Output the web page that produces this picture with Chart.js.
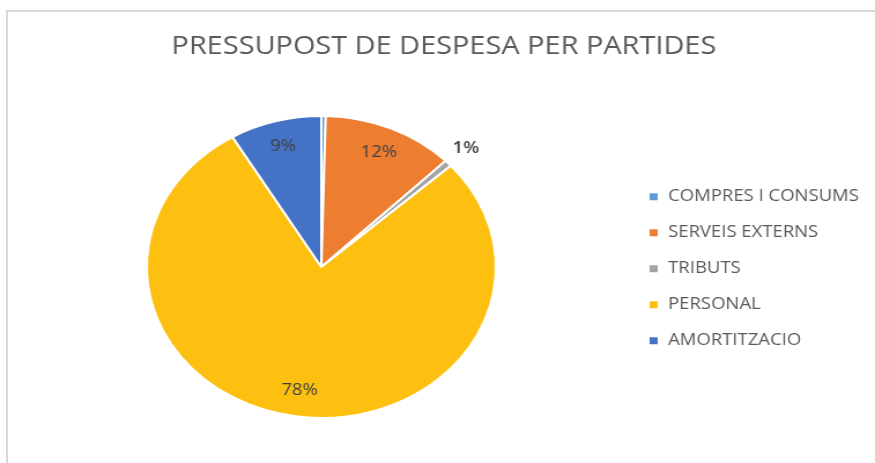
<!DOCTYPE html>
<html>
<head>
<meta charset="utf-8">
<script src="https://cdn.jsdelivr.net/npm/chart.js@4.4.1/dist/chart.umd.min.js"></script>
<style>
  html, body { margin: 0; padding: 0; background: #fff; overflow: hidden; }
  #wrap { position: relative; width: 875px; height: 463px; overflow: hidden; }
  #frame { position: absolute; left: 6px; top: 10px; right: 0; bottom: 0;
           border-left: 2px solid #d9d9d9; border-top: 2px solid #d9d9d9; }
  /* the reference image is stretched sideways, so the canvas is too */
  #stretch { position: absolute; left: 0; top: 0; width: 757px; height: 463px;
             transform-origin: 0 0; transform: scaleX(1.1559); }
</style>
</head>
<body>
<div id="wrap">
  <div id="frame"></div>
  <div id="stretch"><canvas id="pieChart" width="757" height="463"></canvas></div>
</div>
<script>
const categories = ["COMPRES I CONSUMS", "SERVEIS EXTERNS", "TRIBUTS", "PERSONAL", "AMORTITZACIO"];
const shares = [0.4, 12.2, 0.7, 78.2, 8.5];
const colors = ["#5b9bd5", "#ed7d31", "#a5a5a5", "#fdc010", "#4472c4"];

const pctLabels = {
  id: "pctLabels",
  afterDatasetsDraw(chart) {
    const ctx = chart.ctx;
    const total = shares.reduce((a, b) => a + b, 0);
    ctx.save();
    ctx.textAlign = "center";
    ctx.textBaseline = "middle";
    chart.getDatasetMeta(0).data.forEach((arc, i) => {
      const pct = Math.round(shares[i] / total * 100);
      if (pct === 0) return;
      const mid = (arc.startAngle + arc.endAngle) / 2;
      const small = shares[i] / total < 0.03;
      const f = small ? 1.14 : 0.83;
      const x = arc.x + Math.cos(mid) * arc.outerRadius * f;
      const y = arc.y + Math.sin(mid) * arc.outerRadius * f;
      ctx.font = (small ? "600 " : "") + "16px 'Open Sans'";
      ctx.fillStyle = "#404040";
      ctx.fillText(pct + "%", x, y);
    });
    ctx.restore();
  }
};

new Chart(document.getElementById("pieChart"), {
  type: "pie",
  data: {
    labels: categories,
    datasets: [{
      data: shares,
      backgroundColor: colors,
      borderColor: "#ffffff",
      borderWidth: 2
    }]
  },
  options: {
    responsive: false,
    animation: false,
    layout: { padding: { left: 15, right: 4, top: 0, bottom: 44 } },
    plugins: {
      title: {
        display: true,
        text: "PRESSUPOST DE DESPESA PER PARTIDES",
        color: "#595959",
        font: { family: "'Open Sans'", size: 25, weight: "normal" },
        padding: { top: 32, bottom: 53 }
      },
      legend: {
        position: "right",
        title: { display: true, text: "", padding: { top: 104, bottom: 0 } },
        labels: {
          color: "#595959",
          font: { family: "'Open Sans'", size: 16 },
          boxWidth: 9,
          boxHeight: 9,
          padding: 20
        }
      },
      tooltip: { enabled: false }
    }
  },
  plugins: [pctLabels]
});
</script>
</body>
</html>
